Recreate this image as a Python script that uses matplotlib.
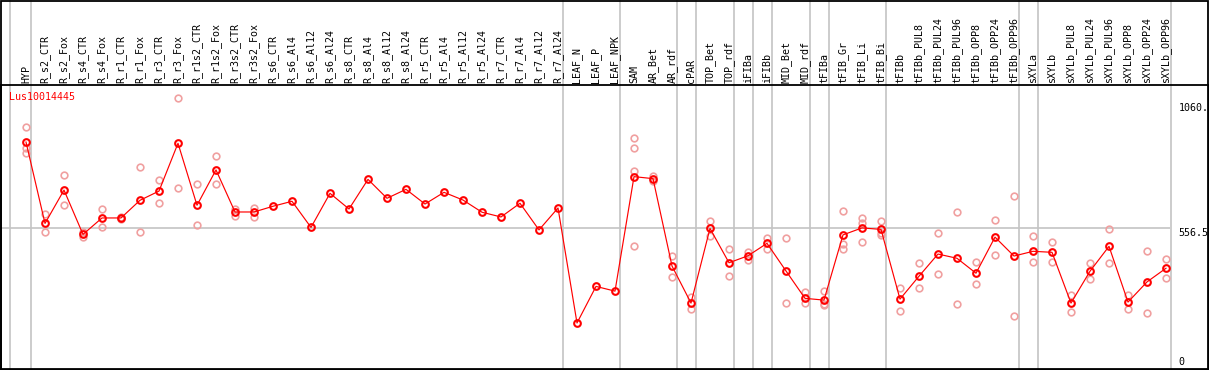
import matplotlib
matplotlib.use("Agg")
import matplotlib.pyplot as plt
import matplotlib.transforms as mtransforms
from matplotlib.patches import Rectangle

categories = [
    "HYP", "R_s2_CTR", "R_s2_Fox", "R_s4_CTR", "R_s4_Fox", "R_r1_CTR", "R_r1_Fox",
    "R_r3_CTR", "R_r3_Fox", "R_r1s2_CTR", "R_r1s2_Fox", "R_r3s2_CTR", "R_r3s2_Fox",
    "R_s6_CTR", "R_s6_Al4", "R_s6_Al12", "R_s6_Al24", "R_s8_CTR", "R_s8_Al4",
    "R_s8_Al12", "R_s8_Al24", "R_r5_CTR", "R_r5_Al4", "R_r5_Al12", "R_r5_Al24",
    "R_r7_CTR", "R_r7_Al4", "R_r7_Al12", "R_r7_Al24", "LEAF_N", "LEAF_P", "LEAF_NPK",
    "SAM", "AR_Bet", "AR_rdf", "cPAR", "TOP_Bet", "TOP_rdf", "iFIBa", "iFIBb",
    "MID_Bet", "MID_rdf", "tFIBa", "tFIB_Gr", "tFIB_Li", "tFIB_Bi", "tFIBb",
    "tFIBb_PUL8", "tFIBb_PUL24", "tFIBb_PUL96", "tFIBb_OPP8", "tFIBb_OPP24",
    "tFIBb_OPP96", "sXYLa", "sXYLb", "sXYLb_PUL8", "sXYLb_PUL24", "sXYLb_PUL96",
    "sXYLb_OPP8", "sXYLb_OPP24", "sXYLb_OPP96",
]

mean_values = [
    903, 576, 710, 532, 598, 598, 669, 706, 898, 649, 791, 622, 622,
    645, 665, 560, 697, 634, 753, 677, 713, 654, 701, 670, 621,
    602, 657, 550, 638, 176, 323, 304,
    764, 756, 405, 256, 556, 418, 446, 496,
    385, 275, 268, 530, 558, 552, 272,
    364, 453, 436, 376, 521, 445,
    464, 460, 256, 384, 484, 260, 341, 396,
]

replicates = [
    [963, 878, 858], [613, 540], [769, 649], [542, 523], [634, 562], [603, 593],
    [801, 540], [750, 657], [1079, 717], [733, 568], [846, 733], [633, 607],
    [637, 602],
    [], [], [], [], [], [], [], [], [], [], [], [], [], [], [], [], [], [], [],
    [918, 878, 788, 485], [767, 745], [445, 361], [279, 231], [586, 527],
    [472, 364], [461, 429], [517, 474],
    [517, 256], [300, 255], [304, 251, 250], [626, 493, 472], [599, 576, 500],
    [586, 538, 528], [317, 224],
    [416, 315], [536, 372], [621, 252], [421, 331], [589, 448], [685, 203],
    [524, 420], [500, 422], [288, 219], [416, 351], [552, 416], [288, 231],
    [464, 215], [433, 356],
]

group_ends = [0, 28, 31, 34, 35, 37, 38, 39, 41, 42, 45, 52, 53, 60]
ytick_values = [1060, 556.5, 0]
ytick_labels = ["1060.", "556.5", "0"]
gene_name = "Lus10014445"

W, H = 1209, 370
fig = plt.figure(figsize=(W / 100, H / 100), dpi=100)

# pixel geometry
ax_left_px, ax_right_px = 1.0, 1208.5
ax_top_px, ax_bot_px = 85.0, 369.0
x0_px, dx_px = 26.0, 19.0
y_ref_px, y_scale = 366.8, 0.2489  # pixel row of value 0, px per unit

ax = fig.add_axes([ax_left_px / W, (H - ax_bot_px) / H,
                   (ax_right_px - ax_left_px) / W, (ax_bot_px - ax_top_px) / H])
ax.set_xlim((ax_left_px - x0_px) / dx_px, (ax_right_px - x0_px) / dx_px)
ax.set_ylim((y_ref_px - ax_bot_px) / y_scale, (y_ref_px - ax_top_px) / y_scale)
ax.set_xticks([])
ax.set_yticks([])
for s in ax.spines.values():
    s.set_linewidth(1.3)
    s.set_color("black")

grid_c = "#c4c4c4"
plot_right = (1170.3 - x0_px) / dx_px
ymax_full = ax_bot_px / (ax_bot_px - ax_top_px)

# vertical separators
seps = [(10.3 - x0_px) / dx_px] + [g + 4.5 / dx_px for g in group_ends]
for sx in seps:
    ax.axvline(sx, ymin=0, ymax=ymax_full, color=grid_c, lw=1.2,
               clip_on=False, zorder=1)

# horizontal reference line
ax.hlines(556.5, ax.get_xlim()[0], plot_right, color=grid_c, lw=1.2, zorder=1)

xs = list(range(len(categories)))

# replicate points
rx, ry = [], []
for i, reps in enumerate(replicates):
    for v in reps:
        rx.append(i)
        ry.append(v)
ax.plot(rx, ry, linestyle="none", marker="o", markersize=4.8,
        markerfacecolor="none", markeredgecolor="#f0a0a0",
        markeredgewidth=1.2, zorder=2)

# mean line + markers
ax.plot(xs, mean_values, color="#ff0000", lw=0.85, zorder=3)
ax.plot(xs, mean_values, linestyle="none", marker="o", markersize=4.8,
        markerfacecolor="none", markeredgecolor="#ff0000",
        markeredgewidth=1.5, zorder=4)

mono = "DejaVu Sans Mono"
# category labels
trans = mtransforms.blended_transform_factory(ax.transData, ax.transAxes)
for i, lab in enumerate(categories):
    ax.text(i, 1.0 + 2.0 / (ax_bot_px - ax_top_px), lab, rotation=90,
            ha="center", va="bottom", transform=trans, fontsize=7.2,
            family=mono, color="black", clip_on=False)

# right-side value labels
lx = (1178.5 - x0_px) / dx_px
for v, lab in zip(ytick_values, ytick_labels):
    ax.text(lx, v, lab, ha="left", va="bottom" if v == 0 else "top",
            fontsize=7.2, family=mono, color="black")

# gene name
fig.text(9.3 / W, (H - 96.7) / H, gene_name, ha="left", va="center",
         fontsize=7.2, family=mono, color="#ff0000")

# outer frame
fig.patches.append(Rectangle((0.5 / W, 0.5 / H), (W - 1.2) / W, (H - 1.2) / H,
                             transform=fig.transFigure, fill=False,
                             edgecolor="black", lw=1.3))

fig.savefig("out.png", dpi=100)
